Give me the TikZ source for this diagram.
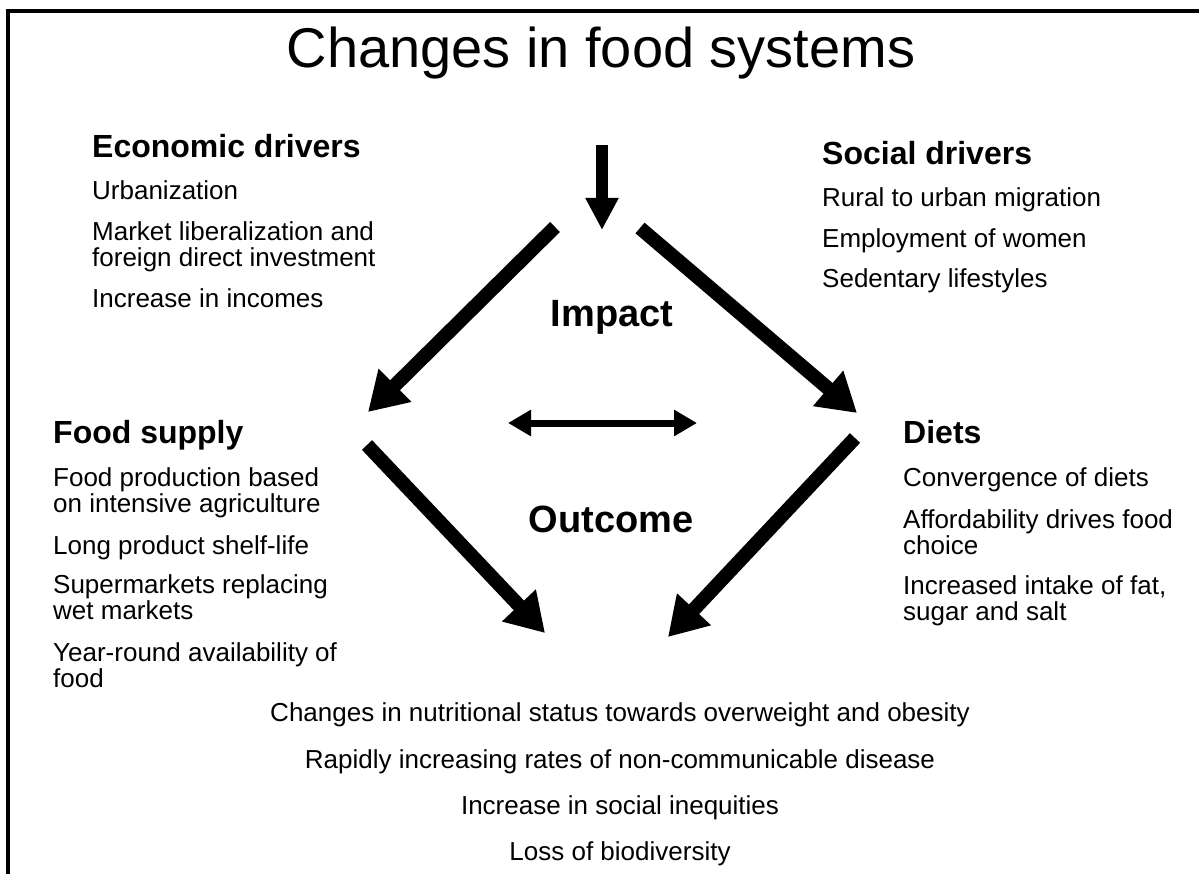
\documentclass[tikz,border=0pt]{standalone}
\usepackage{fontspec}
\setmainfont{Liberation Sans}
\usetikzlibrary{calc}
\usetikzlibrary{arrows.meta}
\tikzset{
  big arrow/.style={line width=14pt, -{Triangle[length=38pt,width=44pt]}},
  down arrow/.style={line width=12pt, -{Triangle[length=32pt,width=31pt]}},
  both arrow/.style={line width=7pt,
    {Triangle[length=23pt,width=25pt]}-{Triangle[length=23pt,width=25pt]}},
  title/.style={anchor=base, inner sep=0pt, font=\fontsize{56}{56}\selectfont},
  head/.style={anchor=base west, inner sep=0pt, font=\fontsize{32}{32}\selectfont\bfseries},
  item/.style={anchor=base west, inner sep=0pt, align=left, font=\fontsize{26}{26}\selectfont},
  word/.style={anchor=base, inner sep=0pt, font=\fontsize{38}{38}\selectfont\bfseries},
  result/.style={anchor=base, inner sep=0pt, font=\fontsize{26}{26}\selectfont},
}

\begin{document}
\begin{tikzpicture}[x=1pt,y=-1pt]
\useasboundingbox (0,0) rectangle (1199,874);
%\draw[help lines,step=50] (0,0) grid (1199,874);

%%%%%%%%%%%%%%%%%%%%%%%%%%%%%%%%%%%%%%%%%%%%%%%%%%%%%%%%%%%%%% frame
\coordinate (F1) at (1199,11);
\coordinate (F2) at (8,11);
\coordinate (F3) at (8,874);
\draw[line width=3.5pt] (F1) -- (F2) -- (F3);

\node[title] (title) at (601,68) {Changes in food systems};

%%%%%%%%%%%%%%%%%%%%%%%%%%%%%%%%%%%%%%%%%%%%%%%%%%%%%%%%%%%%%% economic
% (two-line items sit on the baseline of their last line)
\coordinate (A) at (92,158);

\node[head] (eco) at (A) {Economic drivers};
\node[item] (eco-1) at ($(A)+(0,42)$) {Urbanization};
\node[item] (eco-2) at ($(A)+(0,109)$) {Market liberalization and\\foreign direct investment};
\node[item] (eco-3) at ($(A)+(0,150)$) {Increase in incomes};

%%%%%%%%%%%%%%%%%%%%%%%%%%%%%%%%%%%%%%%%%%%%%%%%%%%%%%%%%%%%%% social
\coordinate (A) at (822,165);

\node[head] (soc) at (A) {Social drivers};
\node[item] (soc-1) at ($(A)+(0,42)$) {Rural to urban migration};
\node[item] (soc-2) at ($(A)+(0,83)$) {Employment of women};
\node[item] (soc-3) at ($(A)+(0,123)$) {Sedentary lifestyles};

%%%%%%%%%%%%%%%%%%%%%%%%%%%%%%%%%%%%%%%%%%%%%%%%%%%%%%%%%%%%%% food supply
\coordinate (A) at (53,443);

\node[head] (sup) at (A) {Food supply};
\node[item] (sup-1) at ($(A)+(0,69)$) {Food production based\\on intensive agriculture};
\node[item] (sup-2) at ($(A)+(0,111)$) {Long product shelf-life};
\node[item] (sup-3) at ($(A)+(0,176)$) {Supermarkets replacing\\wet markets};
\node[item] (sup-4) at ($(A)+(0,244)$) {Year-round availability of\\food};

%%%%%%%%%%%%%%%%%%%%%%%%%%%%%%%%%%%%%%%%%%%%%%%%%%%%%%%%%%%%%% diets
\coordinate (A) at (903,443);

\node[head] (die) at (A) {Diets};
\node[item] (die-1) at ($(A)+(0,43)$) {Convergence of diets};
\node[item] (die-2) at ($(A)+(0,111)$) {Affordability drives food\\choice};
\node[item] (die-3) at ($(A)+(0,177)$) {Increased intake of fat,\\sugar and salt};

%%%%%%%%%%%%%%%%%%%%%%%%%%%%%%%%%%%%%%%%%%%%%%%%%%%%%%%%%%%%%% middle
\node[word] (impact) at (612,327) {Impact};
\node[word] (outcome) at (611,532) {Outcome};

\coordinate (T1) at (602,145);
\coordinate (T2) at (602,230);
\coordinate (UL1) at (555,227);
\coordinate (UL2) at (368,412);
\coordinate (UR1) at (640,228);
\coordinate (UR2) at (857,413);
\coordinate (LL1) at (367,445);
\coordinate (LL2) at (545,633);
\coordinate (LR1) at (855,438);
\coordinate (LR2) at (668,637);
\coordinate (M1) at (508,423);
\coordinate (M2) at (697,423);

\draw[down arrow] (T1) -- (T2);
\draw[big arrow] (UL1) -- (UL2);
\draw[big arrow] (UR1) -- (UR2);
\draw[big arrow] (LL1) -- (LL2);
\draw[big arrow] (LR1) -- (LR2);
\draw[both arrow] (M1) -- (M2);

%%%%%%%%%%%%%%%%%%%%%%%%%%%%%%%%%%%%%%%%%%%%%%%%%%%%%%%%%%%%%% outcomes
\coordinate (A) at (620,721);

\node[result] (out-1) at (A) {Changes in nutritional status towards overweight and obesity};
\node[result] (out-2) at ($(A)+(0,47)$) {Rapidly increasing rates of non-communicable disease};
\node[result] (out-3) at ($(A)+(0,93)$) {Increase in social inequities};
\node[result] (out-4) at ($(A)+(0,139)$) {Loss of biodiversity};

\end{tikzpicture}
\end{document}
